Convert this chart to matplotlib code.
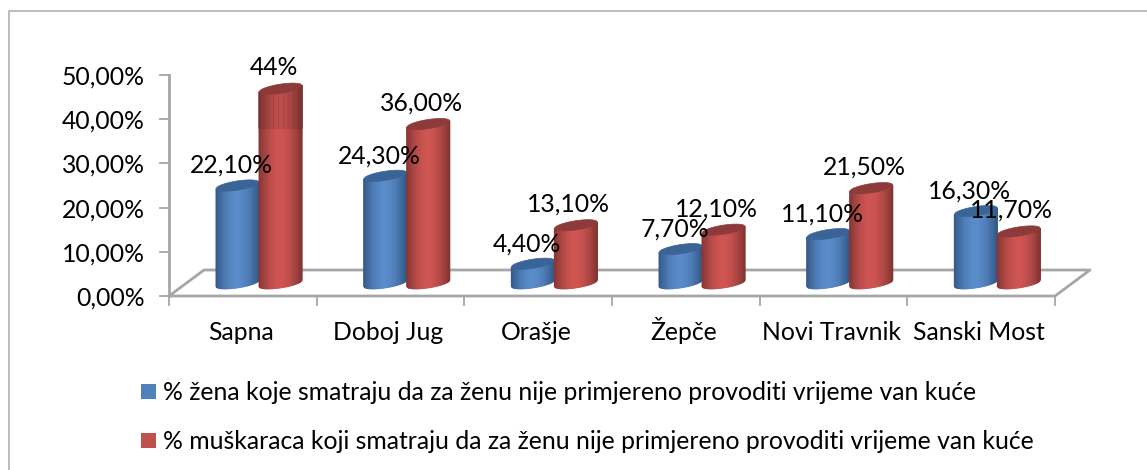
"""Two-series 3D-look cylinder chart, drawn with plain matplotlib."""

import matplotlib
matplotlib.use("Agg")
import matplotlib.pyplot as plt
import numpy as np
from matplotlib.colors import to_rgb
from matplotlib.lines import Line2D
from matplotlib.patches import Polygon, Rectangle

categories = ["Sapna", "Doboj Jug", "Orašje", "Žepče", "Novi Travnik", "Sanski Most"]
women = [22.1, 24.3, 4.4, 7.7, 11.1, 16.3]
men = [44.0, 36.0, 13.1, 12.1, 21.5, 11.7]
women_labels = ["22,10%", "24,30%", "4,40%", "7,70%", "11,10%", "16,30%"]
men_labels = ["44%", "36,00%", "13,10%", "12,10%", "21,50%", "11,70%"]
y_ticks = [0, 10, 20, 30, 40, 50]
y_tick_labels = ["0,00%", "10,00%", "20,00%", "30,00%", "40,00%", "50,00%"]
legend_labels = [
    "% žena koje smatraju da za ženu nije primjereno provoditi vrijeme van kuće",
    "% muškaraca koji smatraju da za ženu nije primjereno provoditi vrijeme van kuće",
]

W, H = 1147, 470
GRAY = "#a6a6a6"
FS = 17.8

plt.rcParams["font.family"] = ["Lato", "DejaVu Sans"]

fig = plt.figure(figsize=(W / 100, H / 100), dpi=100)
# plot box in pixels: left wall at x=169, baseline at y=296, 50% at y=75
ax = fig.add_axes([169 / W, 1 - 296 / H, 886 / W, 221 / H])
ax.set_xlim(0, 6)
ax.set_ylim(0, 50)
ax.axis("off")

px_x = 6 / 886   # data units per pixel
px_y = 50 / 221
base = 2.9       # cylinders stand on the floor, above the front edge
half_w = 21.5 * px_x
rise = 3.2 * px_y    # tilt of the ellipse
squash = 4.6 * px_y  # half height of the ellipse


def shade(edge, mid, n):
    t = np.abs(np.linspace(-1, 1, n))[:, None] ** 1.8
    return (1 - t) * np.array(mid) + t * np.array(edge)


def cylinder(cx, value, edge, mid, top, z, dark_from=None):
    u = np.linspace(-1, 1, 45)
    x = cx + half_w * u
    tilt = rise * u
    curve = squash * np.sqrt(1 - u ** 2)
    y_low = base + tilt - curve
    y_front = base + value + tilt - curve
    colors = shade(to_rgb(edge), to_rgb(mid), len(u) - 1)
    for i in range(len(u) - 1):
        ax.add_patch(Polygon(
            [(x[i], y_low[i]), (x[i + 1], y_low[i + 1]),
             (x[i + 1], y_front[i + 1]), (x[i], y_front[i])],
            closed=True, fc=colors[i], ec=colors[i], lw=0.8, zorder=z,
        ))
    if dark_from is not None:
        # the tallest cylinder has a darker, streaky upper part
        y_dark = base + dark_from
        for i in range(len(u) - 1):
            c = colors[i] * (0.84 if i % 5 == 0 else 0.92)
            ax.add_patch(Polygon(
                [(x[i], y_dark), (x[i + 1], y_dark),
                 (x[i + 1], y_front[i + 1]), (x[i], y_front[i])],
                closed=True, fc=c, ec=c, lw=0.8, zorder=z + 0.1,
            ))
    rim = np.concatenate([y_front, (base + value + tilt + curve)[::-1]])
    ax.add_patch(Polygon(
        np.column_stack([np.concatenate([x, x[::-1]]), rim]),
        closed=True, fc=top, ec=top, lw=0.5, zorder=z + 0.2,
    ))


# floor and axes
depth_x, depth_y = 35 * px_x, 26 * px_y
floor_x = [0, depth_x, 6 + depth_x, 6, 0]
floor_y = [0, depth_y, depth_y, 0, 0]
ax.add_line(Line2D(floor_x, floor_y, color=GRAY, lw=2, clip_on=False, zorder=1))
ax.add_line(Line2D([0, 0], [0, 50], color=GRAY, lw=2, clip_on=False, zorder=1))
for t, tick_label in zip(y_ticks, y_tick_labels):
    ax.add_line(Line2D([-9 * px_x, 0], [t, t], color=GRAY, lw=1.3, clip_on=False, zorder=1))
    ax.text(-24 * px_x, t - 2 * px_y, tick_label, ha="right", va="center",
            fontsize=FS, color="black")
for i in range(7):
    ax.add_line(Line2D([i, i], [0, -9 * px_y], color=GRAY, lw=1.3, clip_on=False, zorder=1))

for i, name in enumerate(categories):
    ax.text(i + 0.5 - 2 * px_x, -44 * px_y, name, ha="center", va="baseline",
            fontsize=FS, color="black")
    center = i + 0.61
    blue_x = center - half_w
    red_x = center + half_w
    cylinder(blue_x, women[i], "#345a88", "#5a8cca", "#3a6496", 3)
    cylinder(red_x, men[i], "#843634", "#cf5552", "#8c3b3a", 4,
             dark_from=35.0 if men[i] == max(men) else None)
    ax.text(blue_x - 6 * px_x, base + women[i] + 20 * px_y, women_labels[i],
            ha="center", va="center", fontsize=FS, color="black", zorder=6)
    ax.text(red_x - 7 * px_x, base + men[i] + 21 * px_y, men_labels[i],
            ha="center", va="center", fontsize=FS, color="black", zorder=6)

# legend, in pixel positions
swatches = ["#4f81bd", "#c0504d"]
for label, col, yc in zip(legend_labels, swatches, [391.5, 440.5]):
    fig.add_artist(Rectangle((141 / W, 1 - (yc + 7.5) / H), 15 / W, 15 / H,
                             transform=fig.transFigure, fc=col, ec="none"))
    fig.text(163 / W, 1 - (yc + 1) / H, label, ha="left", va="center",
             fontsize=FS, color="black")

# outer chart frame, only the left and top edges are in the crop
frame_x = [8.5 / W, 8.5 / W, 1]
frame_y = [0, 1 - 10.5 / H, 1 - 10.5 / H]
fig.add_artist(Line2D(frame_x, frame_y, transform=fig.transFigure, color="#b0b0b0", lw=1.2))

fig.savefig("out.png", dpi=100)
